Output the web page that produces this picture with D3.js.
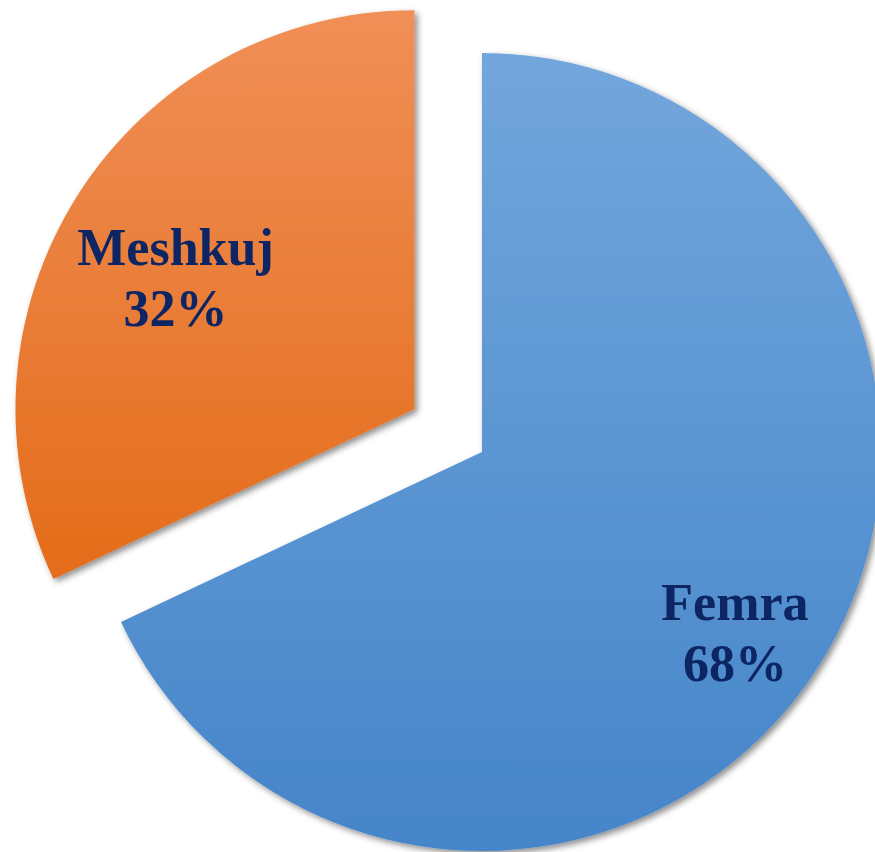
<html>
<meta charset="utf-8">
<head>
<script src="https://d3js.org/d3.v7.min.js"></script>
<style>
html, body {
  margin:0;
  padding:0;
  background:#ffffff;
}
svg {display:block;}
</style>
</head>
<body>
<svg class="svg"></svg>
<script>

// data
const categories = ["Femra", "Meshkuj"]
const values = [68, 32]
const labels = ["68%", "32%"]

const size = ({width:875, height:852})
const center = ({x:482, y:452})
const radius = 399
const explode = [0, 80]

const gradColors = [
  ["#72a6dc", "#4585c9"],
  ["#f08f57", "#e46c1a"]
]

var svg = d3.select("svg")
  .attr("width", size.width)
  .attr("height", size.height)

var defs = svg.append("defs")

// soft shadow like the office charts
var shadow = defs.append("filter")
  .attr("id", "shadow")
  .attr("x", "-10%").attr("y", "-10%")
  .attr("width", "130%").attr("height", "130%")
shadow.append("feDropShadow")
  .attr("dx", 3)
  .attr("dy", 3)
  .attr("stdDeviation", 3)
  .attr("flood-color", "#000")
  .attr("flood-opacity", 0.45)

gradColors.forEach(function(c, i) {
  var g = defs.append("linearGradient")
    .attr("id", "grad" + i)
    .attr("x1", 0).attr("y1", 0)
    .attr("x2", 0).attr("y2", 1)
  g.append("stop").attr("offset", "0%").attr("stop-color", c[0])
  g.append("stop").attr("offset", "100%").attr("stop-color", c[1])
})

const pieData = d3.pie().sort(null).value(d => d)(values)

const arc = d3.arc()
  .innerRadius(0)
  .outerRadius(radius)

const labelArc = d3.arc()
  .innerRadius(radius * 0.73)
  .outerRadius(radius * 0.73)

function shift(d, i) {
  var a = (d.startAngle + d.endAngle) / 2
  return [Math.sin(a) * explode[i], -Math.cos(a) * explode[i]]
}

var slices = svg.append("g")
  .attr("transform", "translate(" + center.x + "," + center.y + ")")

slices.selectAll("path")
  .data(pieData)
  .enter()
  .append("path")
  .attr("d", arc)
  .attr("transform", (d, i) => "translate(" + shift(d, i) + ")")
  .style("fill", (d, i) => "url(#grad" + i + ")")
  .attr("filter", "url(#shadow)")

var txt = slices.selectAll(".lbl")
  .data(pieData)
  .enter()
  .append("text")
  .attr("class", "lbl")
  .attr("transform", function(d, i) {
    var c = labelArc.centroid(d)
    var s = shift(d, i)
    return "translate(" + (c[0] + s[0] + 7) + "," + (c[1] + s[1]) + ")"
  })
  .attr("text-anchor", "middle")
  .style("font-family", "'Liberation Serif', 'Times New Roman', serif")
  .style("font-weight", "bold")
  .style("font-size", "52px")
  .style("fill", "#0d2562")

txt.append("tspan")
  .attr("x", 0)
  .attr("y", 12)
  .text((d, i) => categories[i])

txt.append("tspan")
  .attr("x", 0)
  .attr("y", 73)
  .text((d, i) => labels[i])

</script>
</body>
</html>
